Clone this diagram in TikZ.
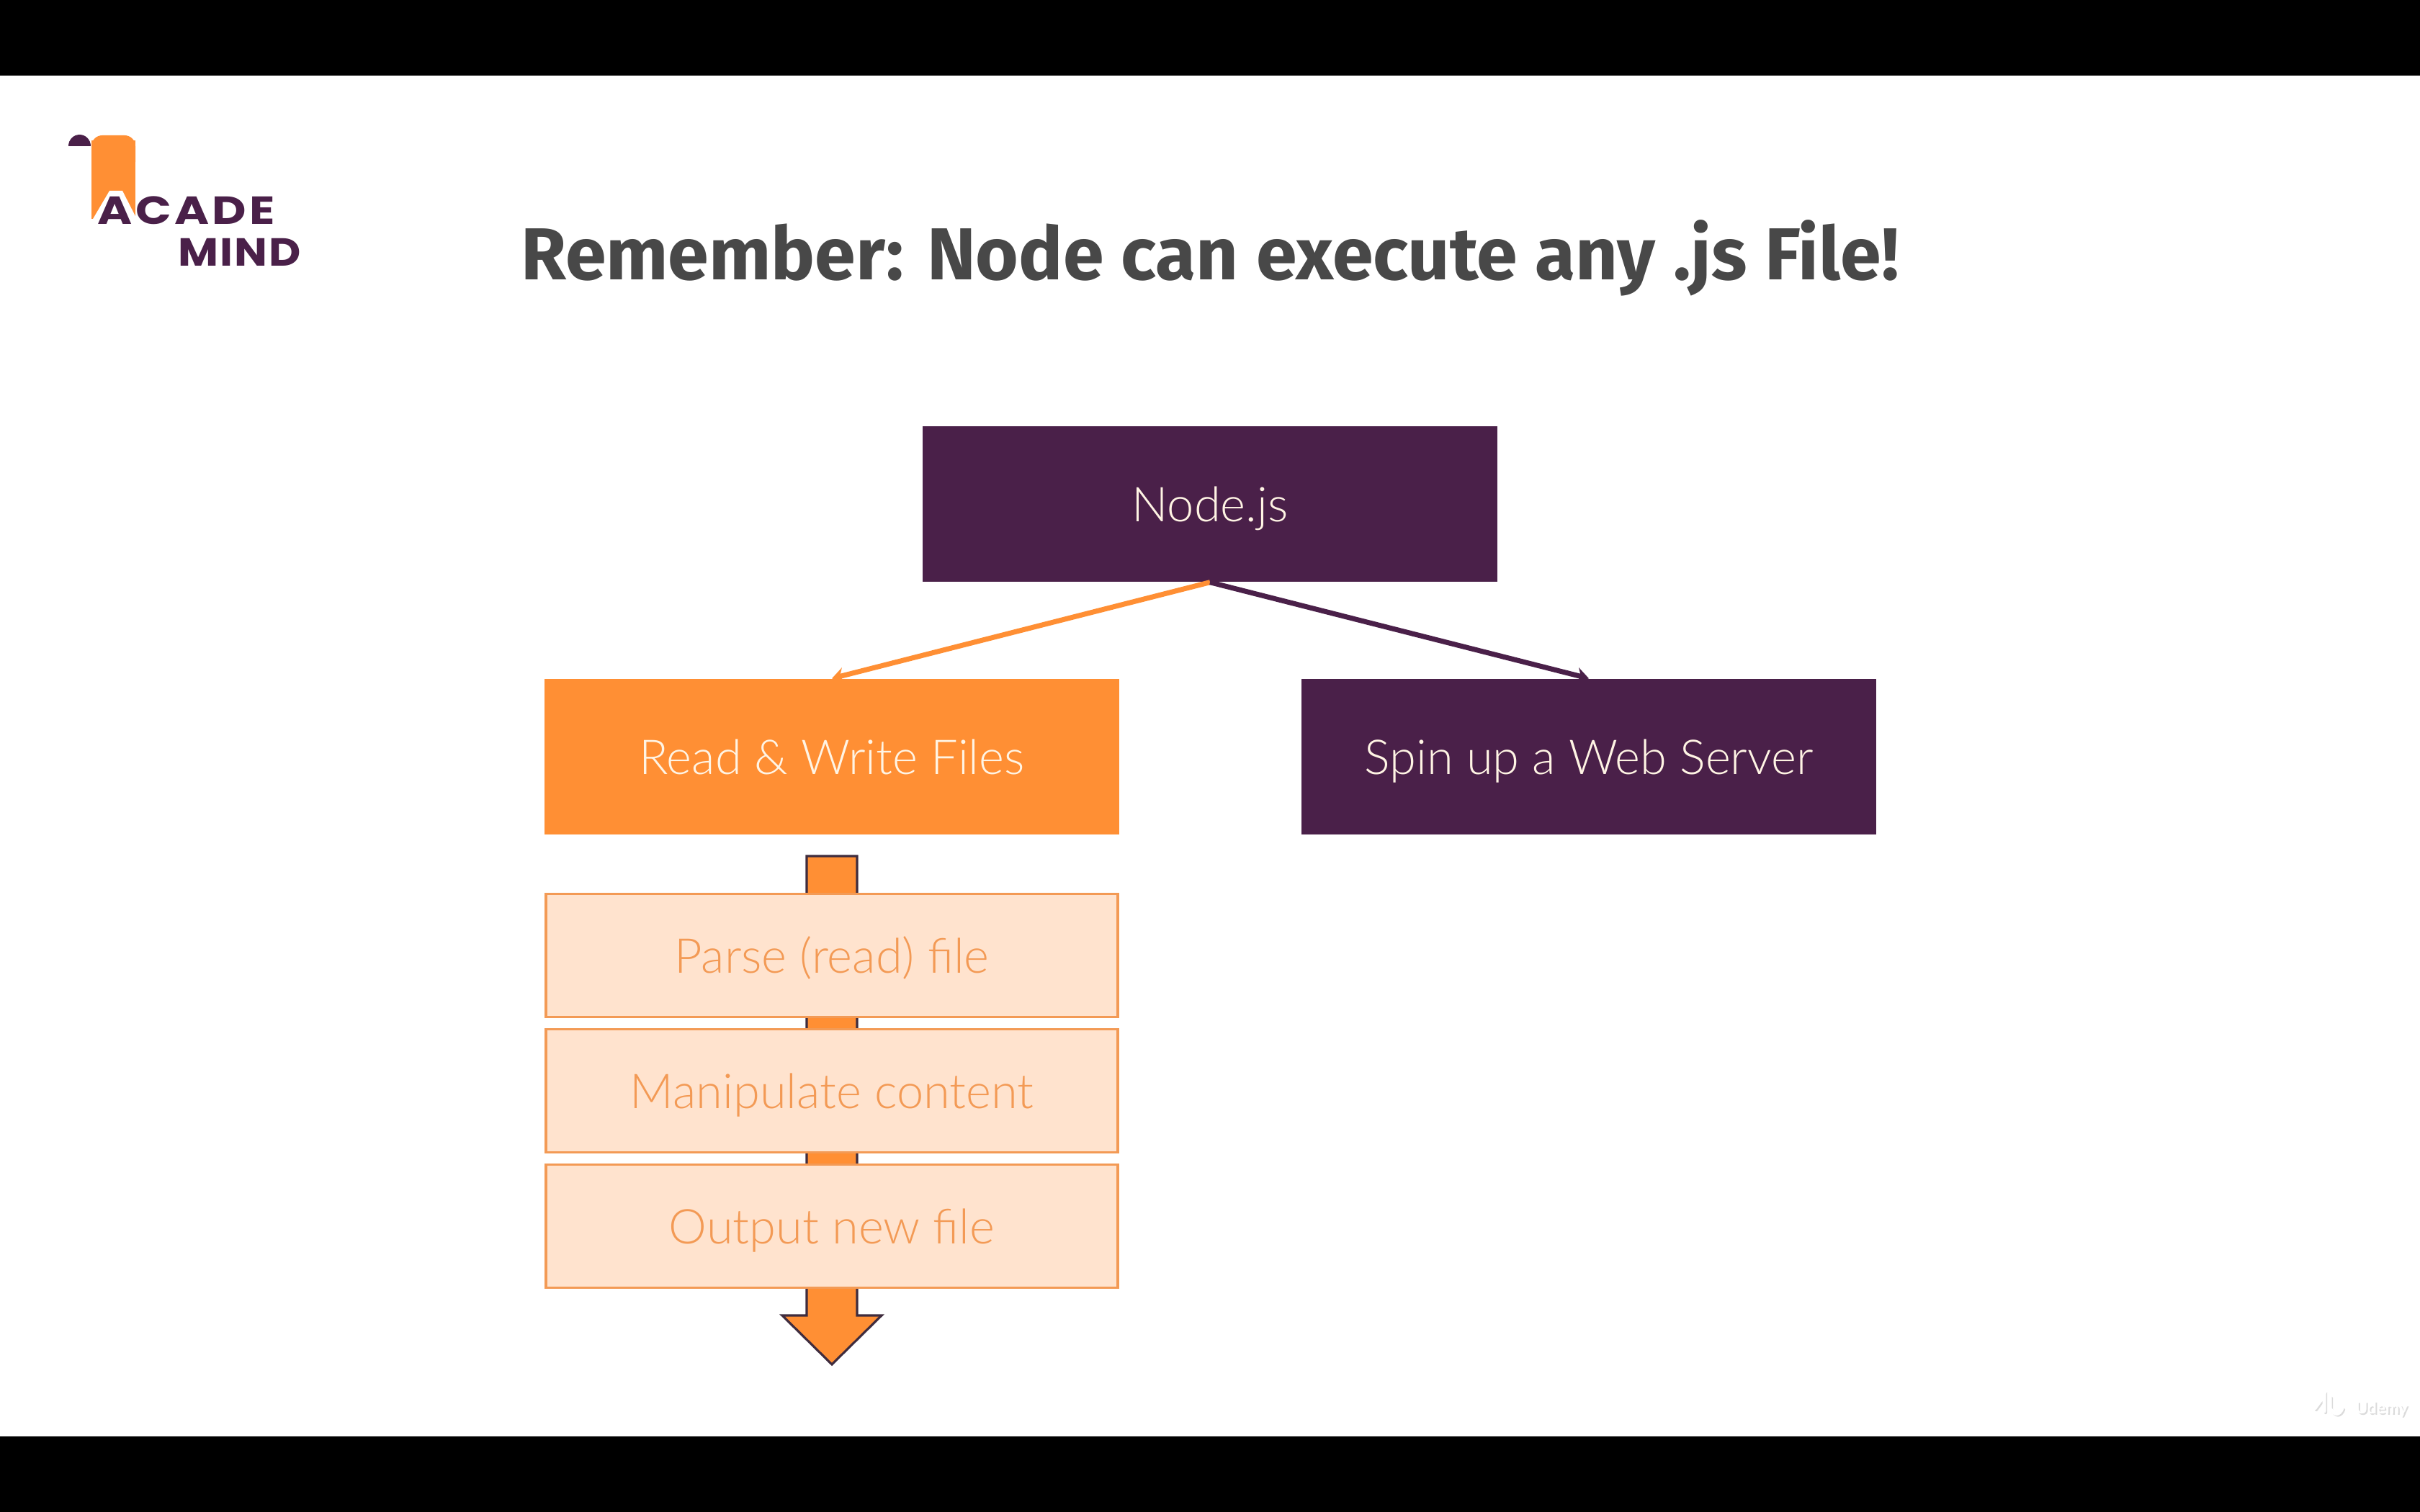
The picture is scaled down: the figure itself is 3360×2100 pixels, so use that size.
\documentclass[tikz,border=0pt]{standalone}
\usepackage{fontspec}
\setmainfont{Lato Light}
\newfontfamily\titlefont{Fira Sans}
\newfontfamily\acadefont[LetterSpace=8, FakeStretch=1.2]{Poppins}
\newfontfamily\mindfont[LetterSpace=4, FakeStretch=1.12]{Poppins}
\usetikzlibrary{arrows.meta}
\definecolor{plum}{HTML}{4A2049}
\definecolor{tangerine}{HTML}{FF8F34}
\definecolor{peach}{HTML}{FFE3CE}
\definecolor{peachline}{HTML}{F39A55}
\definecolor{cream}{HTML}{FFF4E4}
\definecolor{slate}{HTML}{484848}
\definecolor{outline}{HTML}{3F2C3E}
\begin{document}
\begin{tikzpicture}[
  x = 0.1mm, y = -0.1mm,
  every node/.style = {inner sep=0pt, font=\fontsize{19}{22}\selectfont, text height=15.2pt, text depth=1.5pt},
  solidbox/.style = {minimum width=7.98cm, minimum height=2.16cm},
  stepbox/.style = {minimum width=7.94cm, minimum height=1.71cm, draw=peachline,
    line width=0.9pt, fill=peach, text=peachline},
  logotext/.style = {text=plum, text height=, text depth=},
  link/.style = {line width=2pt, -{Stealth[length=1.7mm, width=2.2mm]}},
]

\useasboundingbox (0, 0) rectangle (3360, 2100);
\fill[black] (0, 0) rectangle (3360, 105);
\fill[black] (0, 1995) rectangle (3360, 2100);

% logo
\fill[tangerine, rounded corners=1.5mm] (127, 188) -- (188, 188) -- (188, 240) -- (127, 240) -- cycle;
\fill[tangerine] (127, 195) rectangle (188, 304);
\fill[white] (122, 316) -- (152, 265) -- (170, 265) -- (196, 316) -- cycle;
\fill[plum] (95, 203) arc[start angle=180, end angle=0, x radius=15.5, y radius=-16] -- cycle;
\node[logotext, anchor=base west, font=\acadefont\bfseries\fontsize{15.5}{18}\selectfont] (acade) at (135, 312) {ACADE};
\node[logotext, anchor=base east, font=\mindfont\bfseries\fontsize{15.5}{18}\selectfont] (mind) at (419, 370) {MIND};

\node[text=slate, text height=, text depth=, anchor=base, font=\titlefont\bfseries\fontsize{29.1}{36}\selectfont] (title) at (1680, 389) {Remember: Node can execute any .js File!};

% the arrow runs behind the step boxes
\draw[fill=tangerine, draw=outline, line width=0.9pt, line join=miter]
  (1120, 1189) -- (1190, 1189) -- (1190, 1827) -- (1224, 1827) -- (1155, 1895)
  -- (1086, 1827) -- (1120, 1827) -- cycle;

\node[solidbox, fill=plum, text=cream] (node) at (1680, 700) {Node.js};
\node[solidbox, fill=tangerine, text=cream] (files) at (1155, 1051) {Read \& Write Files};
\node[solidbox, fill=plum, text=cream] (server) at (2206, 1051) {Spin up a Web Server};

\foreach \name/\ypos/\label in {parse/1327/Parse (read) file, manipulate/1515/Manipulate content, output/1703/Output new file}
  \node[stepbox] (\name) at (1155, \ypos) {\label};

\draw[link, tangerine] (node.south) -- (files.north);
\draw[link, plum] (node.south) -- (server.north);

% watermark
\draw[black!14, line width=1.2pt, line cap=round] (3216, 1958) -- (3229, 1940) -- (3229, 1962) (3237, 1942) -- (3237, 1958) .. controls (3243, 1968) and (3250, 1968) .. (3254, 1958);
\draw[white, line width=1.4pt, line cap=round] (3214, 1956) -- (3227, 1938) -- (3227, 1960) (3235, 1940) -- (3235, 1956) .. controls (3241, 1966) and (3248, 1966) .. (3252, 1956);
\node[anchor=west, text=black!14, text height=, text depth=, font=\bfseries\fontsize{6.5}{7}\selectfont] (brandshadow) at (3272, 1959) {Udemy};
\node[anchor=west, text=white, text height=, text depth=, font=\bfseries\fontsize{6.5}{7}\selectfont] (brand) at (3270, 1957) {Udemy};

\end{tikzpicture}
\end{document}
